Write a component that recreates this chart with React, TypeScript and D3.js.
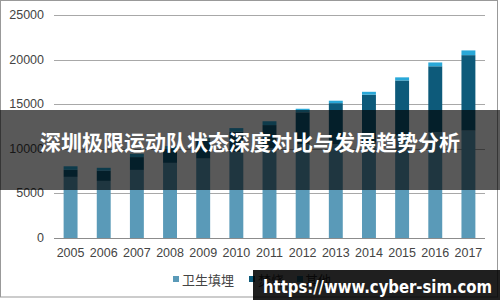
import React from "react";
import * as d3 from "d3";

const years = ["2005","2006","2007","2008","2009","2010","2011","2012","2013","2014","2015","2016","2017"];
const landfill = [6850, 6400, 7630, 8420, 8900, 9600, 10060, 10510, 10490, 10740, 11480, 11870, 12040];
const incineration = [790, 1140, 1440, 1570, 2020, 2320, 2600, 3580, 4630, 5330, 6180, 7380, 8460];
const others = [400, 330, 370, 310, 310, 400, 430, 400, 270, 320, 350, 430, 530];
const yTicks = [0, 5000, 10000, 15000, 20000, 25000];
const seriesNames = ["卫生填埋", "焚烧", "其他"];
const seriesColors = ["#5a9ab8", "#0d5a7a", "#2aa8d8"];
const titleText = "深圳极限运动队状态深度对比与发展趋势分析";
const watermark = "https://www.cyber-sim.com";

const W = 500, H = 300;

export default function App() {
  const x = d3.scaleBand<string>().domain(years).range([54, 485]).paddingInner(0.58).paddingOuter(0.29);
  const y = d3.scaleLinear().domain([0, 25000]).range([238, 15]);
  const rows = years.map((yr, i) => ({ year: yr, a: landfill[i], b: incineration[i], c: others[i] }));
  const stack = d3.stack<any>().keys(["a", "b", "c"]);
  const layers = stack(rows);

  const legendItems = [
    { name: seriesNames[0], color: seriesColors[0], mx: 173, tx: 182 },
    { name: seriesNames[1], color: seriesColors[1], mx: 249, tx: 258 },
    { name: seriesNames[2], color: seriesColors[2], mx: 297, tx: 305 },
  ];

  return (
    <svg width={W} height={H} style={{ position: "absolute", left: 0, top: 0, background: "#fff" }}
      fontFamily="'Liberation Sans', Arial, sans-serif">
      <rect x={0} y={0} width={W} height={H} fill="#fff" />
      {yTicks.map((t) => (
        <g key={t}>
          <line x1={54} x2={485} y1={Math.round(y(t)) + 0.5} y2={Math.round(y(t)) + 0.5}
            stroke={t === 0 ? "#8c8c8c" : "#a8a8a8"} strokeWidth={1} />
          <text x={44} y={y(t)} textAnchor="end" dominantBaseline="central" fontSize={12.5} fill="#444">{t}</text>
        </g>
      ))}
      {layers.map((layer, li) => (
        <g key={li} fill={seriesColors[li]}>
          {layer.map((d: any, i: number) => (
            <rect key={i} x={x(years[i])} width={x.bandwidth()} y={y(d[1])} height={y(d[0]) - y(d[1])} />
          ))}
        </g>
      ))}
      {years.map((yr) => (
        <text key={yr} x={(x(yr) as number) + x.bandwidth() / 2} y={253} textAnchor="middle"
          dominantBaseline="central" fontSize={12.5} fill="#444">{yr}</text>
      ))}
      {legendItems.map((it) => (
        <g key={it.name}>
          <rect x={it.mx} y={276} width={6} height={6} fill={it.color} />
          <text x={it.tx} y={279} dominantBaseline="central" fontSize={13} fill="#444"
            fontFamily="'Noto Sans CJK SC', sans-serif">{it.name}</text>
        </g>
      ))}
      <rect x={0.5} y={0.5} width={497} height={296.5} fill="none" stroke="#999" strokeWidth={1} />
      <rect x={0} y={110} width={W} height={80} fill="rgba(0,0,0,0.65)" />
      <text x={250} y={141} textAnchor="middle" dominantBaseline="central" fontSize={21} fontWeight="bold"
        fill="#fff" fontFamily="'Noto Sans CJK SC', sans-serif">{titleText}</text>
      <rect x={253} y={270} width={247} height={30} fill="rgba(0,0,0,0.88)" />
      <text x={263} y={286} dominantBaseline="central" fontSize={18} fontWeight="bold" fill="#fff"
        fontFamily="'DejaVu Sans', sans-serif" textLength={229} lengthAdjust="spacingAndGlyphs">{watermark}</text>
    </svg>
  );
}
